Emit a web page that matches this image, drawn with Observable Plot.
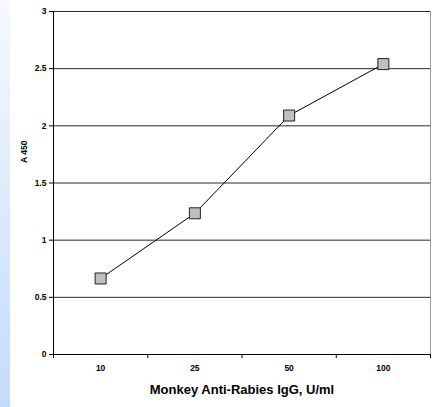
<!DOCTYPE html>
<html><head><meta charset="utf-8">
<script src="https://cdn.jsdelivr.net/npm/d3@7"></script>
<script src="https://cdn.jsdelivr.net/npm/@observablehq/plot@0.6"></script>
<style>
body{margin:0;background:#fff;}
#wrap{position:relative;width:433px;height:407px;overflow:hidden;}
#strip{position:absolute;left:0;top:0;width:10px;height:407px;background:linear-gradient(to bottom,#f6f9fe,#c3dbfc);}
#chart{position:absolute;left:0;top:0;}
</style></head><body>
<div id="wrap"><div id="strip"></div><div id="chart"></div></div>
<script>
const categories = ["10", "25", "50", "100"];
const values = [0.665, 1.235, 2.09, 2.54];
const yTicks = [0, 0.5, 1, 1.5, 2, 2.5, 3];
const yTickLabels = ["0", "0.5", "1", "1.5", "2", "2.5", "3"];
const xTitle = "Monkey Anti-Rabies IgG, U/ml";
const yTitle = "A 450";

const data = categories.map((c, i) => ({i: i + 0.5, c, v: values[i]}));
const bounds = d3.range(categories.length + 1);

const plot = Plot.plot({
  width: 433, height: 407,
  marginLeft: 53, marginRight: 3, marginTop: 11, marginBottom: 53,
  style: {fontFamily: "'Liberation Sans', Arial, sans-serif", background: "transparent", overflow: "visible"},
  x: {type: "linear", domain: [0, categories.length]},
  y: {domain: [0, 3]},
  marks: [
    Plot.ruleY(yTicks.filter(d => d > 0), {stroke: "#2a2a2a", strokeWidth: 1}),
    Plot.ruleX([categories.length], {stroke: "#9a9a9a"}),
    Plot.ruleY([0], {stroke: "#000"}),
    Plot.ruleX([0], {stroke: "#000"}),
    Plot.axisY({ticks: yTicks, tickFormat: (d, i) => yTickLabels[i], tickSize: 4, tickPadding: 3, fontSize: 8.5, fontWeight: "bold", label: null, stroke: "#000"}),
    Plot.axisX({ticks: bounds, tickFormat: () => "", tickSize: 4, label: null, stroke: "#000"}),
    Plot.axisX({ticks: data.map(d => d.i), tickFormat: (d, i) => categories[i], tickSize: 0, tickPadding: 10, fontSize: 8.5, fontWeight: "bold", label: null}),
    Plot.text([xTitle], {frameAnchor: "bottom", dy: 39, fontSize: 13, fontWeight: "bold", fill: "#000"}),
    Plot.text([yTitle], {frameAnchor: "left", dx: -29, dy: -20, rotate: -90, fontSize: 8.5, fontWeight: "bold", fill: "#000"}),
    Plot.line(data, {x: "i", y: "v", stroke: "#000", strokeWidth: 1}),
    Plot.dot(data, {x: "i", y: "v", symbol: "square", r: 6.2, fill: "#c0c0c0", stroke: "#222", strokeWidth: 1})
  ]
});
document.getElementById("chart").appendChild(plot);
</script>
</body></html>
